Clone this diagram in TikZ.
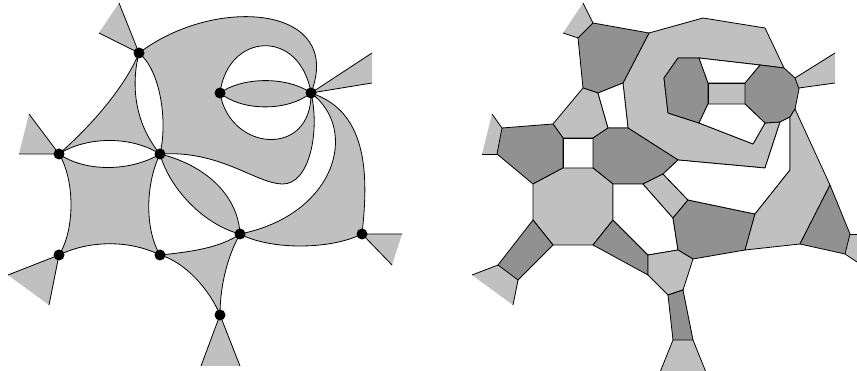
\documentclass[tikz,border=0pt]{standalone}
\definecolor{lg}{RGB}{192,192,192}
\definecolor{dg}{RGB}{145,145,145}
\begin{document}
\begin{tikzpicture}[x=1pt,y=-1pt,line join=round]
\tikzset{
  edge/.style={draw=black,line width=0.8pt},
  dot/.style={circle,fill=black,inner sep=0pt,minimum size=11pt},
  lpoly/.style={fill=lg,draw=black,line width=0.8pt},
  dpoly/.style={fill=dg,draw=black,line width=0.8pt},
  wpoly/.style={fill=white,draw=black,line width=0.8pt},
  stubfill/.style={fill=lg}
}
\useasboundingbox (0,0) rectangle (857,371);
% ---------------- left panel ----------------
\coordinate (vA) at (139,53);
\coordinate (vB) at (59,154);
\coordinate (vC) at (160,154);
\coordinate (vD) at (220,93);
\coordinate (vE) at (311,93);
\coordinate (vF) at (240,234);
\coordinate (vG) at (59,255);
\coordinate (vH) at (160,255);
\coordinate (vI) at (362,234);
\coordinate (vJ) at (220,315);
\coordinate (pEC) at (282,184);
% stub ends
\coordinate (sA1) at (119,3);  \coordinate (sA2) at (99,33);
\coordinate (sB1) at (29,114); \coordinate (sB2) at (19,154);
\coordinate (sE1) at (372,53); \coordinate (sE2) at (372,83);
\coordinate (sG1) at (8,275);  \coordinate (sG2) at (49,305);
\coordinate (sI1) at (402,234);\coordinate (sI2) at (392,265);
\coordinate (sJ1) at (201,366);\coordinate (sJ2) at (240,366);
% gray faces
\fill[lg] (vA) .. controls (128,80) and (100,118) .. (vB)
  .. controls (85,137) and (130,135) .. (vC)
  .. controls (132,120) and (132,80) .. (vA) -- cycle;
\fill[lg] (vA) .. controls (215,-5) and (345,5) .. (vE)
  .. controls (320,130) and (310,185) .. (pEC)
  .. controls (255,183) and (220,150) .. (vC)
  .. controls (168,120) and (160,70) .. (vA) -- cycle;
\fill[white] (vD) .. controls (228,32) and (300,28) .. (vE)
  .. controls (312,158) and (230,152) .. (vD) -- cycle;
\fill[lg] (vD) .. controls (240,78) and (285,75) .. (vE)
  .. controls (285,113) and (240,110) .. (vD) -- cycle;
\fill[lg] (vC) .. controls (205,165) and (238,195) .. (vF)
  .. controls (205,225) and (170,190) .. (vC) -- cycle;
\fill[lg] (vB) .. controls (85,172) and (130,172) .. (vC)
  .. controls (145,185) and (145,230) .. (vH)
  .. controls (130,240) and (90,240) .. (vG)
  .. controls (75,230) and (75,180) .. (vB) -- cycle;
\fill[lg] (vH) .. controls (190,252) and (220,248) .. (vF)
  .. controls (228,255) and (220,285) .. (vJ)
  .. controls (210,290) and (185,262) .. (vH) -- cycle;
\fill[lg] (vE) .. controls (360,130) and (335,215) .. (vF)
  .. controls (270,250) and (330,250) .. (vI)
  .. controls (368,180) and (370,112) .. (vE) -- cycle;
% stubs
\foreach \v/\p/\q in {vA/sA1/sA2,vB/sB1/sB2,vE/sE1/sE2,vG/sG1/sG2,vI/sI1/sI2,vJ/sJ1/sJ2}{
  \fill[stubfill] (\v) -- (\p) -- (\q) -- cycle;
  \draw[edge] (\p) -- (\v) -- (\q);
}
% edges
\draw[edge] (vA) .. controls (128,80) and (100,118) .. (vB);
\draw[edge] (vA) .. controls (132,80) and (132,120) .. (vC);
\draw[edge] (vA) .. controls (160,70) and (168,120) .. (vC);
\draw[edge] (vB) .. controls (85,137) and (130,135) .. (vC);
\draw[edge] (vB) .. controls (85,172) and (130,172) .. (vC);
\draw[edge] (vA) .. controls (215,-5) and (345,5) .. (vE);
\draw[edge] (vD) .. controls (228,32) and (300,28) .. (vE);
\draw[edge] (vD) .. controls (240,78) and (285,75) .. (vE);
\draw[edge] (vD) .. controls (240,110) and (285,113) .. (vE);
\draw[edge] (vD) .. controls (230,152) and (312,158) .. (vE);
\draw[edge] (vE) .. controls (320,130) and (310,185) .. (pEC) .. controls (255,183) and (220,150) .. (vC);
\draw[edge] (vE) .. controls (360,130) and (335,215) .. (vF);
\draw[edge] (vE) .. controls (370,112) and (368,180) .. (vI);
\draw[edge] (vF) .. controls (270,250) and (330,250) .. (vI);
\draw[edge] (vC) .. controls (205,165) and (238,195) .. (vF);
\draw[edge] (vC) .. controls (170,190) and (205,225) .. (vF);
\draw[edge] (vC) .. controls (145,185) and (145,230) .. (vH);
\draw[edge] (vB) .. controls (75,180) and (75,230) .. (vG);
\draw[edge] (vG) .. controls (90,240) and (130,240) .. (vH);
\draw[edge] (vH) .. controls (190,252) and (220,248) .. (vF);
\draw[edge] (vF) .. controls (228,255) and (220,285) .. (vJ);
\draw[edge] (vH) .. controls (185,262) and (210,290) .. (vJ);
% vertices
\foreach \n in {A,B,C,D,E,F,G,H,I,J}{ \node[dot] (\n) at (v\n) {}; }
% ---------------- right panel ----------------
% stubs
\fill[stubfill] (593,23) -- (583,3) -- (563,33) -- (578,38) -- cycle;
\draw[edge] (583,3) -- (593,23); \draw[edge] (563,33) -- (578,38);
\fill[stubfill] (492,114) -- (502,128) -- (497,154) -- (482,154) -- cycle;
\draw[edge] (492,114) -- (502,128); \draw[edge] (497,154) -- (482,154);
\fill[stubfill] (498,265) -- (518,280) -- (513,305) -- (472,275) -- cycle;
\draw[edge] (498,265) -- (472,275); \draw[edge] (518,280) -- (513,305);
\fill[stubfill] (673,340) -- (693,340) -- (705.5,371) -- (660.5,371) -- cycle;
\draw[edge] (673,340) -- (660.5,371); \draw[edge] (693,340) -- (705.5,371);
\fill[stubfill] (795,78) -- (835,53) -- (835,83) -- (799,88) -- cycle;
\draw[edge] (795,78) -- (835,53); \draw[edge] (799,88) -- (835,83);
\fill[stubfill] (850,234) -- (857,234) -- (857,262) -- (845,254) -- cycle;
\draw[edge] (850,234) -- (857,234); \draw[edge] (845,254) -- (857,262);
% band
\path[lpoly] (784,68) -- (765,28) -- (703,18) -- (649,33) -- (623,83) -- (628,128)
  -- (678,160) -- (765,168) -- (780,122) -- (765,123) -- (753,144) -- (699,123)
  -- (668,113) -- (664,78) -- (678,58) -- (699,58) -- (760,65) -- cycle;
% faces
\path[dpoly] (593,23) -- (649,33) -- (623,83) -- (598,93) -- (583,88) -- (578,38) -- cycle;
\path[lpoly] (583,88) -- (598,93) -- (608,128) -- (593,138) -- (563,138) -- (553,124) -- cycle;
\path[wpoly] (598,93) -- (623,83) -- (628,128) -- (608,128) -- cycle;
\path[dpoly] (502,128) -- (553,124) -- (563,138) -- (563,168) -- (533,184) -- (497,154) -- cycle;
\path[wpoly] (563,138) -- (593,138) -- (593,168) -- (563,168) -- cycle;
\path[dpoly] (593,138) -- (608,128) -- (628,128) -- (678,160) -- (663,174) -- (643,184) -- (613,184) -- (593,168) -- cycle;
\path[lpoly] (533,184) -- (563,168) -- (593,168) -- (613,184) -- (613,220) -- (593,245) -- (553,245) -- (533,220) -- cycle;
\path[dpoly] (533,220) -- (553,245) -- (518,280) -- (498,265) -- cycle;
\path[dpoly] (593,245) -- (613,220) -- (648,255) -- (648,275) -- cycle;
\path[wpoly] (613,184) -- (643,184) -- (673,218) -- (678,250) -- (648,255) -- (613,220) -- cycle;
\path[lpoly] (643,184) -- (663,174) -- (688,200) -- (673,218) -- cycle;
\path[dpoly] (688,200) -- (755,214) -- (745,250) -- (693,259) -- (678,250) -- (673,218) -- cycle;
\path[lpoly] (648,255) -- (678,250) -- (693,259) -- (683,290) -- (668,295) -- (648,275) -- cycle;
\path[dpoly] (668,295) -- (683,290) -- (693,340) -- (673,340) -- cycle;
\path[dpoly] (678,58) -- (699,58) -- (708,83) -- (708,104) -- (699,123) -- (668,113) -- (664,78) -- cycle;
\path[lpoly] (708,83) -- (745,83) -- (745,104) -- (708,104) -- cycle;
\path[dpoly] (745,83) -- (760,65) -- (784,68) -- (795,78) -- (799,89) -- (795,109) -- (790,117) -- (780,122) -- (765,123) -- (745,104) -- cycle;
\path[wpoly] (699,58) -- (760,65) -- (745,83) -- (708,83) -- cycle;
\path[wpoly] (699,123) -- (708,104) -- (745,104) -- (765,123) -- (753,144) -- cycle;
\path[wpoly] (663,174) -- (678,160) -- (765,168) -- (780,122) -- (790,117) -- (790,170) -- (755,214) -- (688,200) -- cycle;
\path[lpoly] (790,117) -- (795,109) -- (830,185) -- (800,244) -- (745,250) -- (755,214) -- (790,170) -- cycle;
\path[dpoly] (830,185) -- (850,234) -- (845,254) -- (800,244) -- cycle;
\end{tikzpicture}
\end{document}
